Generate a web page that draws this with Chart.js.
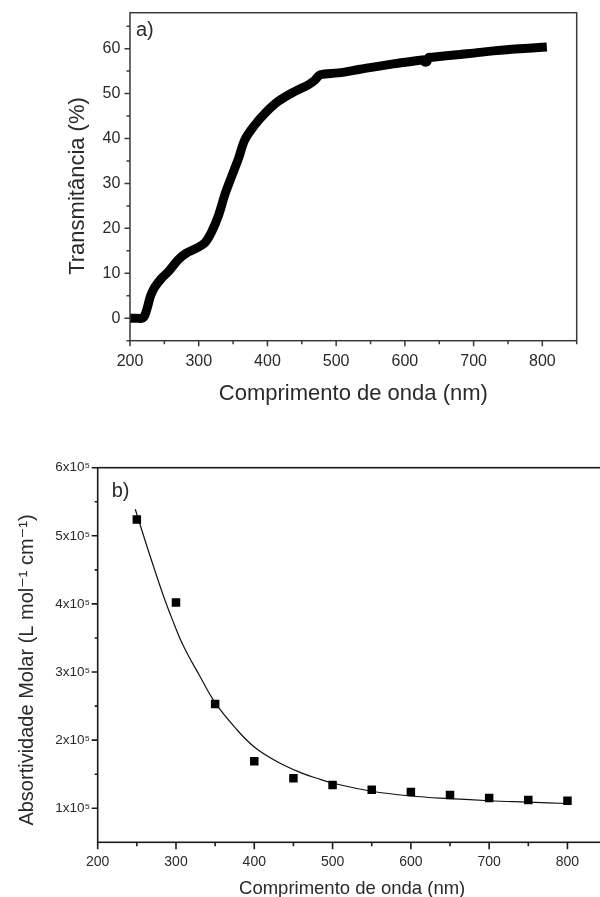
<!DOCTYPE html>
<html><head><meta charset="utf-8">
<script src="https://cdn.jsdelivr.net/npm/chart.js@4.4.1/dist/chart.umd.min.js"></script>
<style>
html,body{margin:0;padding:0;overflow:hidden;background:#fff;width:600px;height:897px;}
#ca{position:absolute;left:0;top:0;}
#cb{position:absolute;left:0;top:420px;}
</style></head><body>
<canvas id="ca" width="600" height="420"></canvas>
<canvas id="cb" width="620" height="480"></canvas>
<script>
// ---- Panel a) : transmittance spectrum ----
const transWavelengths = [200,210,218,222,226,230,236,246,256,270,282,297,309,319,329,338,348,358,367,380,397,416,440,460,469,477,503,535,583,622,627,629,632,634,640,680,700,729,760,800];
const transValues      = [0,0,0,0.8,2.8,5.0,6.9,8.9,10.4,13.0,14.5,15.6,16.8,19.3,23.0,27.5,31.6,35.6,39.7,42.7,45.7,48.3,50.5,52.0,53.0,54.2,54.6,55.4,56.6,57.4,57.5,57.0,57.1,58.0,58.1,58.7,59.0,59.5,59.9,60.3];
const xTicksA = [200,300,400,500,600,700,800];
const yTicksA = [0,10,20,30,40,50,60];

// ---- Panel b) : molar absorptivity ----
const absWavelengths = [250,300,350,400,450,500,550,600,650,700,750,800];
const absValues      = [5.24e5,4.02e5,2.53e5,1.69e5,1.44e5,1.34e5,1.27e5,1.24e5,1.195e5,1.15e5,1.12e5,1.11e5];
const fitWavelengths = [248,260,271,283,295,310,330,350,375,400,430,460,480,500,550,600,650,700,750,800];
const fitValues      = [5.39e5,4.95e5,4.56e5,4.15e5,3.78e5,3.37e5,2.95e5,2.55e5,2.19e5,1.90e5,1.68e5,1.52e5,1.44e5,1.37e5,1.25e5,1.18e5,1.14e5,1.11e5,1.09e5,1.07e5];
const xTicksB = [200,300,400,500,600,700,800];
const yTicksB = [1e5,2e5,3e5,4e5,5e5,6e5];

const FONT = "'Liberation Sans', Arial, 'DejaVu Sans', sans-serif";
Chart.defaults.font.family = FONT;
Chart.defaults.animation = false;

const framePlugin = {
  id: 'frame',
  afterDatasetsDraw(chart, args, o) {
    const {ctx, chartArea: {left, right, top, bottom}, scales: {x, y}} = chart;
    ctx.save();
    ctx.lineWidth = o.width;
    ctx.strokeStyle = o.color;
    ctx.beginPath();
    o.xMajor.forEach(v => { const p = x.getPixelForValue(v); ctx.moveTo(p, bottom); ctx.lineTo(p, bottom + o.xMajorLen); });
    o.xMinor.forEach(v => { const p = x.getPixelForValue(v); ctx.moveTo(p, bottom); ctx.lineTo(p, bottom + o.xMinorLen); });
    o.yMajor.forEach(v => { const p = y.getPixelForValue(v); ctx.moveTo(left, p); ctx.lineTo(left - o.yMajorLen, p); });
    o.yMinor.forEach(v => { const p = y.getPixelForValue(v); ctx.moveTo(left, p); ctx.lineTo(left - o.yMinorLen, p); });
    ctx.stroke();
    ctx.strokeRect(left, top, right - left, bottom - top);
    ctx.fillStyle = '#2a2a2a';
    ctx.font = o.labelFont;
    ctx.textBaseline = 'alphabetic';
    ctx.textAlign = 'left';
    ctx.fillText(o.label, left + o.labelDx, top + o.labelDy);
    // rotated y-axis title
    ctx.translate(o.yTitleX, o.yTitleY);
    ctx.rotate(-Math.PI / 2);
    ctx.font = o.yTitleFont;
    ctx.textAlign = 'center';
    ctx.textBaseline = 'middle';
    ctx.fillText(o.yTitle, 0, 0);
    ctx.restore();
  }
};

function fixY(width) { return s => { s.width = width; s.paddingTop = 0; s.paddingBottom = 0; }; }
function fixX(height) { return s => { s.height = height; s.paddingLeft = 0; s.paddingRight = 0; }; }

// ---------- Chart a ----------
new Chart(document.getElementById('ca'), {
  type: 'line',
  data: {
    datasets: [{
      data: transWavelengths.map((w, i) => ({x: w, y: transValues[i]})),
      borderColor: '#000',
      borderWidth: 9,
      pointRadius: 0,
      tension: 0.35,
      borderCapStyle: 'square',
      borderJoinStyle: 'round',
      clip: {left: 0, top: false, right: false, bottom: false}
    }]
  },
  options: {
    responsive: false,
    devicePixelRatio: 1,
    layout: {padding: {left: 0, right: 23.3, top: 12.7, bottom: 0}},
    plugins: {
      legend: {display: false}, tooltip: {enabled: false},
      frame: {
        color: '#3a3a3a', width: 1.5,
        xMajor: xTicksA, xMinor: xTicksA.map(v => v + 50), xMajorLen: 5.5, xMinorLen: 3.5,
        yMajor: yTicksA, yMinor: [-5].concat(yTicksA.map(v => v + 5)), yMajorLen: 5.5, yMinorLen: 3.5,
        label: 'a)', labelFont: '20px ' + FONT, labelDx: 6, labelDy: 23,
        yTitle: 'Transmitância (%)', yTitleFont: '22px ' + FONT, yTitleX: 78, yTitleY: 186
      }
    },
    scales: {
      x: {
        type: 'linear', position: 'bottom', min: 200, max: 850,
        grid: {display: false, drawTicks: false}, border: {display: false},
        afterBuildTicks: s => { s.ticks = xTicksA.map(v => ({value: v})); },
        ticks: {font: {size: 16}, color: '#2a2a2a', padding: 11.7, maxRotation: 0, autoSkip: false},
        title: {display: true, text: 'Comprimento de onda (nm)', font: {size: 22}, color: '#2a2a2a', padding: {top: 0, bottom: 12.8}},
        afterFit: fixX(79.3)
      },
      y: {
        type: 'linear', position: 'left', min: -5, max: 68,
        grid: {display: false, drawTicks: false}, border: {display: false},
        afterBuildTicks: s => { s.ticks = yTicksA.map(v => ({value: v})); },
        ticks: {font: {size: 16}, color: '#2a2a2a', padding: 9.7, autoSkip: false},
        title: {display: false},
        afterFit: fixY(130)
      }
    }
  },
  plugins: [framePlugin]
});

// ---------- Chart b ----------
new Chart(document.getElementById('cb'), {
  type: 'scatter',
  data: {
    datasets: [{
      data: absWavelengths.map((w, i) => ({x: w, y: absValues[i]})),
      pointStyle: 'rect',
      pointRadius: 6,
      backgroundColor: '#000',
      borderColor: '#000',
      borderWidth: 0,
      order: 0
    }, {
      data: fitWavelengths.map((w, i) => ({x: w, y: fitValues[i]})),
      showLine: true,
      borderColor: '#111',
      borderWidth: 1.2,
      pointRadius: 0,
      tension: 0.4,
      order: 1
    }]
  },
  options: {
    responsive: false,
    devicePixelRatio: 1,
    layout: {padding: {left: 0, right: 13.4, top: 47.7, bottom: 0}},
    plugins: {
      legend: {display: false}, tooltip: {enabled: false},
      frame: {
        color: '#1a1a1a', width: 1.6,
        xMajor: xTicksB, xMinor: xTicksB.map(v => v + 50), xMajorLen: 7, xMinorLen: 4,
        yMajor: yTicksB, yMinor: yTicksB.slice(0, 5).map(v => v + 5e4), yMajorLen: 6, yMinorLen: 3,
        label: 'b)', labelFont: '20px ' + FONT, labelDx: 14, labelDy: 29,
        yTitle: 'Absortividade Molar (L mol\u207B\u00B9 cm\u207B\u00B9)', yTitleFont: '20px ' + FONT, yTitleX: 27, yTitleY: 250
      }
    },
    scales: {
      x: {
        type: 'linear', position: 'bottom', min: 200, max: 850,
        grid: {display: false, drawTicks: false}, border: {display: false},
        afterBuildTicks: s => { s.ticks = xTicksB.map(v => ({value: v})); },
        ticks: {font: {size: 14}, color: '#2a2a2a', padding: 11.3, maxRotation: 0, autoSkip: false},
        title: {display: true, text: 'Comprimento de onda (nm)', font: {size: 18.5}, color: '#2a2a2a', padding: {top: 0, bottom: 0}},
        afterFit: fixX(57.7)
      },
      y: {
        type: 'linear', position: 'left', min: 50000, max: 600000,
        grid: {display: false, drawTicks: false}, border: {display: false},
        afterBuildTicks: s => { s.ticks = yTicksB.map(v => ({value: v})); },
        ticks: {font: {size: 13.5}, color: '#2a2a2a', padding: 7.7, autoSkip: false,
                callback: v => (v / 1e5) + 'x10\u2075'},
        title: {display: false},
        afterFit: fixY(97.7)
      }
    }
  },
  plugins: [framePlugin]
});
</script>
</body></html>
